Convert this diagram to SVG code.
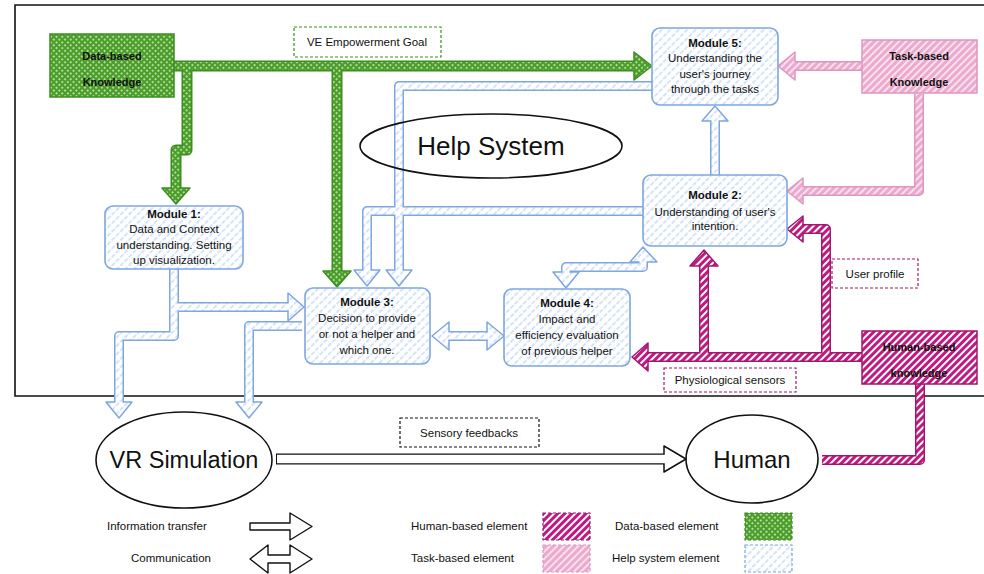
<svg xmlns="http://www.w3.org/2000/svg" width="984" height="574" viewBox="0 0 984 574">
<defs>
<pattern id="pHelp" width="6" height="6" patternUnits="userSpaceOnUse" patternTransform="rotate(-45)">
<rect width="6" height="6" fill="#ffffff"/>
<line x1="0" y1="3" x2="6" y2="3" stroke="#C8DAF6" stroke-width="1.4" stroke-dasharray="3.5 1.5"/>
</pattern>
<pattern id="pHuman" width="5" height="5" patternUnits="userSpaceOnUse" patternTransform="rotate(-45)">
<rect width="5" height="5" fill="#ffffff"/>
<line x1="0" y1="2.5" x2="5" y2="2.5" stroke="#BF1A82" stroke-width="3"/>
</pattern>
<pattern id="pTask" width="5" height="5" patternUnits="userSpaceOnUse" patternTransform="rotate(-45)">
<rect width="5" height="5" fill="#FAE0EE"/>
<line x1="0" y1="2.5" x2="5" y2="2.5" stroke="#EBA9CD" stroke-width="3"/>
</pattern>
<pattern id="pData" width="4" height="4" patternUnits="userSpaceOnUse" patternTransform="rotate(45)">
<rect width="4" height="4" fill="#4A9E27"/>
<rect x="1.2" y="1.2" width="1.6" height="1.6" fill="#E8F5E0"/>
</pattern>
<style>
text{font-family:"Liberation Sans",Arial,sans-serif;fill:#111;}
.t11{font-size:11.5px;}
.t10{font-size:11px;}
.b{font-weight:bold;}
.mod{fill:url(#pHelp);stroke:#7EA6E0;stroke-width:1.6;}
.hb-o{fill:none;stroke:#7EA6E0;stroke-width:10;stroke-linejoin:round;}
.hb-i{fill:none;stroke:url(#pHelp);stroke-width:7;stroke-linejoin:round;}
.hb-h{fill:url(#pHelp);stroke:#7EA6E0;stroke-width:1.5;stroke-linejoin:round;}
.g-o{fill:none;stroke:#3C8E1F;stroke-width:11;stroke-linejoin:round;}
.g-i{fill:none;stroke:url(#pData);stroke-width:8;stroke-linejoin:round;}
.g-h{fill:url(#pData);stroke:#3C8E1F;stroke-width:1.5;stroke-linejoin:round;}
.m-o{fill:none;stroke:#A3166E;stroke-width:10;stroke-linejoin:round;}
.m-i{fill:none;stroke:url(#pHuman);stroke-width:7;stroke-linejoin:round;}
.m-h{fill:url(#pHuman);stroke:#A3166E;stroke-width:1.5;stroke-linejoin:round;}
.p-o{fill:none;stroke:#DE96BE;stroke-width:10;stroke-linejoin:round;}
.p-i{fill:none;stroke:url(#pTask);stroke-width:7;stroke-linejoin:round;}
.p-h{fill:url(#pTask);stroke:#DE96BE;stroke-width:1.5;stroke-linejoin:round;}
.k-o{fill:none;stroke:#111;stroke-width:11;}
.k-i{fill:none;stroke:#fff;stroke-width:8.4;}
.k-h{fill:#fff;stroke:#111;stroke-width:1.5;stroke-linejoin:round;}
.dash{fill:#fff;stroke-dasharray:3 2;stroke-width:1.2;}
</style>
</defs>

<rect width="984" height="574" fill="#ffffff"/>

<!-- frame -->
<path d="M984,5 H15 V396 H984" fill="none" stroke="#111" stroke-width="1.6"/>

<!-- connectors -->
<g id="connectors">
  <g id="c-data">
    <path class="g-o" d="M174,66 H640 M187,66 V150 H176 V190 M337,66 V272"/>
    <polygon class="g-h" points="634,52 652,66 634,80"/>
    <polygon class="g-h" points="162,188 190,188 176,204"/>
    <polygon class="g-h" points="323,271 351,271 337,287"/>
    <path class="g-i" d="M174,66 H637 M187,66 V150 H176 V191 M337,66 V273"/>
  </g>
  <g id="c-help">
    <path class="hb-o" d="M652,86 H399 V271 M643,211 H367 V271 M715,175 V120 M174,269 V336 H119 V403 M174,307 H289 M302,326 H249 V403 M447,336 H489 M566,273 V267 H643 V262"/>
    <polygon class="hb-h" points="386,270 412,270 399,286"/>
    <polygon class="hb-h" points="354,270 380,270 367,286"/>
    <polygon class="hb-h" points="702,121 728,121 715,106"/>
    <polygon class="hb-h" points="106,402 132,402 119,418"/>
    <polygon class="hb-h" points="288,293 288,321 304,307"/>
    <polygon class="hb-h" points="236,402 262,402 249,418"/>
    <polygon class="hb-h" points="449,322 449,350 432,336"/>
    <polygon class="hb-h" points="487,322 487,350 504,336"/>
    <polygon class="hb-h" points="553,272 579,272 566,288"/>
    <polygon class="hb-h" points="630,262 657,262 643,247"/>
    <path class="hb-i" d="M652,86 H399 V272 M643,211 H367 V272 M715,175 V119 M174,269 V336 H119 V404 M174,307 H290 M302,326 H249 V404 M446,336 H490 M566,274 V267 H643 V261"/>
  </g>
  <g id="c-human">
    <path class="m-o" d="M862,357 H647 M704,357 V265 M826,357 V229 H802 M920,384 V460 H822"/>
    <polygon class="m-h" points="648,343 648,371 632,357"/>
    <polygon class="m-h" points="690,266 718,266 704,250"/>
    <polygon class="m-h" points="803,216 803,242 787,229"/>
    <path class="m-i" d="M862,357 H646 M704,357 V264 M826,357 V229 H801 M920,384 V460 H822"/>
  </g>
  <g id="c-task">
    <path class="p-o" d="M862,66 H794 M919,94 V191 H802"/>
    <polygon class="p-h" points="795,52 795,80 778,66"/>
    <polygon class="p-h" points="803,178 803,204 787,191"/>
    <path class="p-i" d="M862,66 H793 M919,94 V191 H801"/>
  </g>
  <g id="c-vr-human">
    <path class="k-o" d="M276,459 H665"/>
    <polygon class="k-h" points="664,446 686,459 664,472"/>
    <path class="k-i" d="M277,459 H666"/>
  </g>
</g>

<!-- nodes -->
<g id="data-knowledge">
  <rect x="50" y="34" width="124" height="63" fill="url(#pData)" stroke="#3C8E1F" stroke-width="1.5"/>
  <text class="t10 b" x="112" y="60" text-anchor="middle">Data-based</text>
  <text class="t10 b" x="112" y="86" text-anchor="middle">Knowledge</text>
</g>
<g id="ve-goal">
  <rect x="294" y="27" width="147" height="30" class="dash" stroke="#3C8E1F"/>
  <text class="t11" x="367" y="46" text-anchor="middle">VE Empowerment Goal</text>
</g>
<g id="task-knowledge">
  <rect x="862" y="40" width="115" height="53" fill="url(#pTask)" stroke="#DE96BE" stroke-width="1.5"/>
  <text class="t10 b" x="919" y="60" text-anchor="middle">Task-based</text>
  <text class="t10 b" x="919" y="86" text-anchor="middle">Knowledge</text>
</g>
<g id="human-knowledge">
  <rect x="862" y="331" width="115" height="53" fill="url(#pHuman)" stroke="#A3166E" stroke-width="1.5"/>
  <text class="t10 b" x="919" y="351" text-anchor="middle">Human-based</text>
  <text class="t10 b" x="919" y="377" text-anchor="middle">knowledge</text>
</g>
<g id="help-system">
  <ellipse cx="491" cy="146" rx="131" ry="32" fill="none" stroke="#111" stroke-width="1.6"/>
  <text x="491" y="155" text-anchor="middle" style="font-size:26px">Help System</text>
</g>
<g id="module5">
  <rect x="652" y="28" width="126" height="77" rx="8" class="mod"/>
  <text class="t11 b" x="715" y="47" text-anchor="middle">Module 5:</text>
  <text class="t11" x="715" y="62" text-anchor="middle">Understanding the</text>
  <text class="t11" x="715" y="78" text-anchor="middle">user's journey</text>
  <text class="t11" x="715" y="93" text-anchor="middle">through the tasks</text>
</g>
<g id="module2">
  <rect x="643" y="175" width="144" height="71" rx="8" class="mod"/>
  <text class="t11 b" x="715" y="199" text-anchor="middle">Module 2:</text>
  <text class="t11" x="715" y="216" text-anchor="middle">Understanding of user's</text>
  <text class="t11" x="715" y="230" text-anchor="middle">intention.</text>
</g>
<g id="module1">
  <rect x="105" y="206" width="138" height="63" rx="8" class="mod"/>
  <text class="t11 b" x="174" y="218" text-anchor="middle">Module 1:</text>
  <text class="t11" x="174" y="233" text-anchor="middle">Data and Context</text>
  <text class="t11" x="174" y="249" text-anchor="middle">understanding. Setting</text>
  <text class="t11" x="174" y="264" text-anchor="middle">up visualization.</text>
</g>
<g id="module3">
  <rect x="305" y="288" width="125" height="76" rx="8" class="mod"/>
  <text class="t11 b" x="367" y="306" text-anchor="middle">Module 3:</text>
  <text class="t11" x="367" y="322" text-anchor="middle">Decision to provide</text>
  <text class="t11" x="367" y="338" text-anchor="middle">or not a helper and</text>
  <text class="t11" x="367" y="354" text-anchor="middle">which one.</text>
</g>
<g id="module4">
  <rect x="504" y="289" width="126" height="77" rx="8" class="mod"/>
  <text class="t11 b" x="567" y="307" text-anchor="middle">Module 4:</text>
  <text class="t11" x="567" y="323" text-anchor="middle">Impact and</text>
  <text class="t11" x="567" y="339" text-anchor="middle">efficiency evaluation</text>
  <text class="t11" x="567" y="355" text-anchor="middle">of previous helper</text>
</g>
<g id="user-profile">
  <rect x="832" y="259" width="86" height="29" class="dash" stroke="#A3166E"/>
  <text class="t11" x="875" y="278" text-anchor="middle">User profile</text>
</g>
<g id="physio">
  <rect x="664" y="368" width="132" height="24" class="dash" stroke="#A3166E"/>
  <text class="t11" x="730" y="384" text-anchor="middle">Physiological sensors</text>
</g>
<g id="sensory">
  <rect x="400" y="418" width="139" height="29" class="dash" stroke="#111"/>
  <text class="t11" x="469" y="437" text-anchor="middle">Sensory feedbacks</text>
</g>
<g id="vr-simulation">
  <ellipse cx="184" cy="460" rx="88" ry="48" fill="none" stroke="#111" stroke-width="1.6"/>
  <text x="184" y="468" text-anchor="middle" style="font-size:23.5px">VR Simulation</text>
</g>
<g id="human">
  <ellipse cx="752" cy="459" rx="66" ry="44" fill="none" stroke="#111" stroke-width="1.6"/>
  <text x="752" y="468" text-anchor="middle" style="font-size:24px">Human</text>
</g>

<!-- legend -->
<g id="legend">
  <text class="t11" x="107" y="530">Information transfer</text>
  <path d="M250,523 H290 V513 L312,526.5 L290,540 V530 H250 Z" fill="#fff" stroke="#111" stroke-width="1.4" stroke-linejoin="round"/>
  <text class="t11" x="171" y="562" text-anchor="middle">Communication</text>
  <path d="M250,559 L268,545 V555 H290 V545 L312,559 L290,573 V563 H268 V573 Z" fill="#fff" stroke="#111" stroke-width="1.4" stroke-linejoin="round"/>
  <text class="t11" x="411" y="530">Human-based element</text>
  <rect x="543" y="513" width="47" height="27" fill="url(#pHuman)" stroke="#A3166E" stroke-width="1.2" stroke-dasharray="3 2"/>
  <text class="t11" x="411" y="562">Task-based element</text>
  <rect x="543" y="545" width="47" height="27" fill="url(#pTask)" stroke="#DE96BE" stroke-width="1.2" stroke-dasharray="3 2"/>
  <text class="t11" x="615" y="530">Data-based element</text>
  <rect x="745" y="513" width="47" height="27" fill="url(#pData)" stroke="#3C8E1F" stroke-width="1.2" stroke-dasharray="3 2"/>
  <text class="t11" x="612" y="562">Help system element</text>
  <rect x="745" y="545" width="47" height="27" fill="url(#pHelp)" stroke="#7EA6E0" stroke-width="1.2" stroke-dasharray="3 2"/>
</g>
</svg>
